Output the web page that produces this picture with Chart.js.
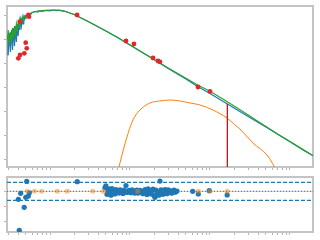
<!DOCTYPE html>
<html>
<head>
<meta charset="utf-8">
<script src="https://cdn.jsdelivr.net/npm/chart.js@4.4.1/dist/chart.umd.min.js"></script>
<style>
  html, body { margin: 0; padding: 0; background: #fff; }
  #wrap { position: relative; width: 320px; height: 240px; }
  canvas { position: absolute; left: 0; }
  #sed { top: 0; }
  #res { top: 172px; }
</style>
</head>
<body>
<div id="wrap">
  <canvas id="sed" width="320" height="172"></canvas>
  <canvas id="res" width="320" height="68"></canvas>
</div>
<script>
// wavelength (micron) and flux values
const specWave = [0.0295, 0.0298, 0.030, 0.031, 0.032, 0.033, 0.034, 0.035, 0.036, 0.037, 0.038, 0.039, 0.040, 0.041, 0.042, 0.043, 0.044, 0.045, 0.046, 0.047, 0.048, 0.049, 0.050, 0.052, 0.054, 0.056, 0.058, 0.060, 0.065, 0.070, 0.075, 0.080, 0.090, 0.100, 0.110, 0.120, 0.130, 0.150, 0.2, 0.3, 0.5, 0.7, 1, 1.5, 2, 3, 5, 7, 10, 15, 20, 30, 50, 70, 100, 150, 200];
const specFlux = [0.0221, 0.149, 0.0221, 0.180, 0.0294, 0.240, 0.0356, 0.290, 0.0521, 0.351, 0.0764, 0.424, 0.135, 0.565, 0.240, 0.621, 0.351, 0.751, 0.424, 0.826, 0.683, 0.909, 0.788, 1.00, 0.953, 1.15, 1.10, 1.27, 1.40, 1.33, 1.49, 1.40, 1.56, 1.49, 1.61, 1.53, 1.58, 1.46, 1.05, 0.538, 0.218, 0.117, 0.0574, 0.0255, 0.0144, 0.00612, 0.00225, 0.00110, 0.000565, 0.000251, 0.000142, 6.32e-5, 2.32e-5, 1.17e-5, 5.68e-6, 2.50e-6, 1.43e-6];

const modelWave = [0.0295, 0.030, 0.031, 0.032, 0.033, 0.034, 0.035, 0.036, 0.037, 0.038, 0.039, 0.040, 0.041, 0.042, 0.043, 0.044, 0.045, 0.046, 0.047, 0.048, 0.049, 0.050, 0.052, 0.054, 0.056, 0.058, 0.060, 0.070, 0.080, 0.100, 0.120, 0.150, 0.2, 0.3, 0.5, 0.7, 1, 1.5, 2, 3, 5, 7, 10, 15, 20, 30, 50, 70, 100, 150, 200];
const modelFlux = [0.0924, 0.240, 0.0521, 0.198, 0.0764, 0.290, 0.112, 0.351, 0.164, 0.424, 0.240, 0.513, 0.351, 0.621, 0.467, 0.683, 0.565, 0.788, 0.683, 0.909, 0.826, 0.953, 1.00, 1.10, 1.15, 1.21, 1.27, 1.46, 1.53, 1.61, 1.61, 1.46, 1.05, 0.538, 0.218, 0.117, 0.0574, 0.0255, 0.0144, 0.00642, 0.00243, 0.00127, 0.000697, 0.000313, 0.000172, 7.29e-5, 2.44e-5, 1.19e-5, 5.78e-6, 2.50e-6, 1.43e-6];

const dustWave = [0.70, 0.794, 0.917, 1.09, 1.33, 1.78, 2.37, 3.16, 4.22, 5.62, 7.50, 10.9, 16.3, 20.5, 23.7, 34.5, 51.6, 70];
const dustFlux = [3e-7, 1.61e-6, 8.96e-6, 4.53e-5, 1.17e-4, 2.29e-4, 2.77e-4, 3.04e-4, 2.77e-4, 2.29e-4, 1.89e-4, 1.17e-4, 5.48e-5, 2.81e-5, 1.92e-5, 5.06e-6, 1.61e-6, 3e-7];

const photWave = [0.0402, 0.0422, 0.0477, 0.0512, 0.0497, 0.0422, 0.0536, 0.0546, 0.218, 0.891, 1.12, 1.94, 2.24, 2.37, 7.08, 10.0];
const photFlux = [0.0162, 0.0221, 0.0260, 0.0419, 0.0714, 0.528, 1.00, 0.851, 1.00, 0.0840, 0.0631, 0.0166, 0.0125, 0.0114, 0.00105, 0.000684];

const cutWave = 16.5;
const cutFlux = [2.08e-4, 1e-7];

const resWave = [0.0402, 0.0413, 0.0430, 0.0476, 0.0498, 0.0512, 0.0536, 0.0551, 0.219,
  0.487, 0.500, 0.516, 0.546, 0.579, 0.613, 0.649, 0.688, 0.729, 0.772, 0.818, 0.866, 0.891, 0.917, 0.972, 1.03, 1.09, 1.15, 1.22, 1.30, 1.37, 1.45, 1.54, 1.63, 1.73, 1.83, 1.94, 2.05, 2.18, 2.30, 2.37, 2.44, 2.59, 2.74, 2.90, 3.07, 3.26, 3.45, 3.65, 3.87,
  0.531, 0.562, 0.596, 0.631, 0.668, 0.708, 0.750, 0.794, 0.841, 0.944, 1.00, 1.06, 1.12, 1.19, 1.26, 1.33, 1.41, 1.50, 1.58, 1.68, 1.78, 1.88, 2.00, 2.11, 2.24, 2.51, 2.66, 2.82, 2.99, 3.16, 3.35, 3.55, 3.76,
  6.08, 7.14, 9.80, 16.4];
const resVal = [-2.67, -13.0, -0.67, -5.33, -2.0, 3.3, -1.6, -0.5, 3.2,
  1.2, 1.8, -1.0, 0.8, -1.3, 0.5, -0.9, 0.2, -0.6, 0.3, -0.7, 0.1, 1.9, -0.4, 0.3, -0.5, 0.2, -0.6, 0.4, -0.3, 0.1, -0.8, 0.6, -1.1, 0.4, -0.9, 0.7, -2.0, -0.2, -1.3, 3.4, 0.5, -1.0, 0.6, -0.8, 0.3, -0.5, 0.2, -0.3, 0.1,
  0.2, -0.4, 0.9, -0.2, 0.6, -0.3, 0.5, -0.2, 0.4, 0.0, -0.2, 0.5, -0.3, 0.2, -0.6, 0.3, 0.0, -0.4, -0.2, 0.8, -0.5, 0.2, -1.4, 0.4, -0.7, -0.3, 0.2, -0.4, 0.5, -0.2, -0.6, 0.4, -0.1,
  0, -0.9, 0.2, -1.2];

const resPhotWave = [0.0520, 0.0637, 0.0787, 0.123, 0.164, 0.342, 0.464, 1.25, 7.14, 10.0, 16.4];
const resPhotVal = [0, 0, 0, 0, 0, 0, 0, 0, 0, 0, 0];

const resLimit = 3;
const xRange = [0.029, 194];
const yRange = [5.13e-7, 2.36];
const resRange = [-13.57, 4.77];

const xTicks = [0.03, 0.04, 0.05, 0.06, 0.07, 0.08, 0.09, 0.1, 0.2, 0.3, 0.4, 0.5, 0.6, 0.7, 0.8, 0.9, 1, 2, 3, 4, 5, 6, 7, 8, 9, 10, 20, 30, 40, 50, 60, 70, 80, 90, 100];
const yTicks = [1e-6, 1e-5, 1e-4, 1e-3, 1e-2, 1e-1, 1];
const resTicks = [-10, -5, 0];

const pts = (xs, ys) => xs.map((x, i) => ({x: x, y: ys[i]}));

const spine = { display: true, color: '#c4c4c4', width: 2 };
const tickGrid = { display: true, drawOnChartArea: false, drawTicks: true, tickLength: 3, color: '#b4b4b4' };
const frameAxis = (pos) => ({
    type: 'linear', position: pos, display: true,
    ticks: { display: false },
    grid: { display: true, drawOnChartArea: false, drawTicks: false },
    border: spine
});

Chart.defaults.animation = false;

new Chart(document.getElementById('sed'), {
    type: 'line',
    data: {
        datasets: [
            {
                data: pts(photWave, photFlux),
                showLine: false,
                pointRadius: 2.4,
                pointBackgroundColor: '#e0282a',
                pointBorderWidth: 0
            },
            {
                data: [{x: cutWave, y: cutFlux[0]}, {x: cutWave, y: cutFlux[1]}],
                borderColor: '#b81c1c',
                borderWidth: 1,
                pointRadius: 0
            },
            {
                data: pts(modelWave, modelFlux),
                borderColor: '#2ca02c',
                borderWidth: 1.2,
                pointRadius: 0
            },
            {
                data: pts(dustWave, dustFlux),
                borderColor: '#ff7f0e',
                borderWidth: 1,
                pointRadius: 0,
                tension: 0.35
            },
            {
                data: pts(specWave, specFlux),
                borderColor: '#1f77b4',
                borderWidth: 1.2,
                pointRadius: 0
            }
        ]
    },
    options: {
        responsive: false,
        layout: { padding: { left: 4, right: 7, top: 6, bottom: 2 } },
        plugins: { legend: { display: false }, tooltip: { enabled: false } },
        scales: {
            x: {
                type: 'logarithmic', position: 'bottom',
                min: xRange[0], max: xRange[1],
                afterBuildTicks: (axis) => { axis.ticks = xTicks.map(v => ({value: v})); },
                ticks: { display: false },
                grid: tickGrid,
                border: spine
            },
            y: {
                type: 'logarithmic', position: 'left',
                min: yRange[0], max: yRange[1],
                afterBuildTicks: (axis) => { axis.ticks = yTicks.map(v => ({value: v})); },
                ticks: { display: false },
                grid: tickGrid,
                border: spine
            },
            x2: frameAxis('top'),
            y2: frameAxis('right')
        }
    }
});

new Chart(document.getElementById('res'), {
    type: 'line',
    data: {
        datasets: [
            {
                data: pts(resPhotWave, resPhotVal),
                showLine: false,
                pointRadius: 2.5,
                pointBackgroundColor: 'rgba(255,127,14,0.5)',
                pointBorderWidth: 0
            },
            {
                data: pts(resWave, resVal),
                showLine: false,
                pointRadius: 2.6,
                pointBackgroundColor: '#1f77b4',
                pointBorderWidth: 0
            },
            {
                data: [{x: xRange[0], y: 0}, {x: xRange[1], y: 0}],
                borderColor: '#666',
                borderWidth: 1,
                borderDash: [1, 2],
                pointRadius: 0
            },
            {
                data: [{x: xRange[0], y: 0}, {x: xRange[1], y: 0}],
                borderColor: 'rgba(31,119,180,0.35)',
                borderWidth: 1,
                pointRadius: 0
            },
            {
                data: [{x: xRange[0], y: resLimit}, {x: xRange[1], y: resLimit}],
                borderColor: '#1f77b4',
                borderWidth: 1.2,
                borderDash: [4, 2],
                pointRadius: 0
            },
            {
                data: [{x: xRange[0], y: -resLimit}, {x: xRange[1], y: -resLimit}],
                borderColor: '#1f77b4',
                borderWidth: 1.2,
                borderDash: [4, 2],
                pointRadius: 0
            }
        ]
    },
    options: {
        responsive: false,
        layout: { padding: { left: 4, right: 7, top: 5, bottom: 5 } },
        plugins: { legend: { display: false }, tooltip: { enabled: false } },
        scales: {
            x: {
                type: 'logarithmic', position: 'bottom',
                min: xRange[0], max: xRange[1],
                afterBuildTicks: (axis) => { axis.ticks = xTicks.map(v => ({value: v})); },
                ticks: { display: false },
                grid: tickGrid,
                border: spine
            },
            y: {
                type: 'linear', position: 'left',
                min: resRange[0], max: resRange[1],
                afterBuildTicks: (axis) => { axis.ticks = resTicks.map(v => ({value: v})); },
                ticks: { display: false },
                grid: tickGrid,
                border: spine
            },
            x2: frameAxis('top'),
            y2: frameAxis('right')
        }
    }
});
</script>
</body>
</html>
